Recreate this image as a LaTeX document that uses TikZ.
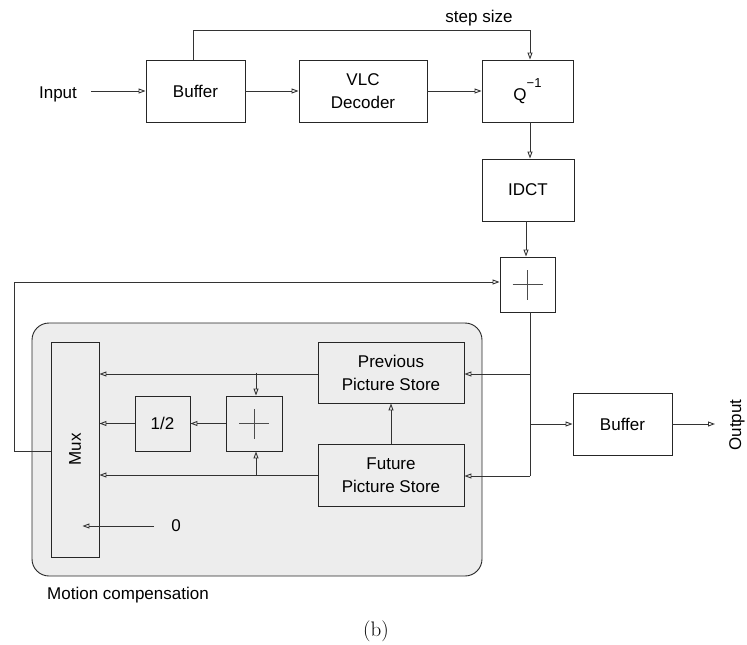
\documentclass[tikz,border=0pt]{standalone}
\usepackage{fontspec}
\setsansfont{Liberation Sans}
\usetikzlibrary{arrows.meta}
\definecolor{mcgray}{HTML}{EDEDED}
\begin{document}
\begin{tikzpicture}[x=1pt,y=-1pt,
  blk/.style={draw=black!85, line width=0.9pt, inner sep=0pt,
    font=\sffamily\fontsize{17}{23}\selectfont, align=center},
  lbl/.style={font=\sffamily\fontsize{17}{20}\selectfont, inner sep=0pt},
  conn/.style={draw=black!80, line width=0.9pt},
  arr/.style={conn, -{Triangle[open, length=7pt, width=5pt]}},
  cross/.style={draw=black!70, line width=0.8pt}]
\useasboundingbox (0,0) rectangle (747,645);

% motion compensation area
\node[draw=black!85, fill=mcgray, rounded corners=17pt, line width=0.9pt,
  minimum width=450pt, minimum height=253pt] (mc) at (257,449.5) {};

% top row
\node[blk, minimum width=99pt, minimum height=62pt] (buf1) at (195.5,91) {Buffer};
\node[blk, minimum width=128pt, minimum height=62pt] (vlc) at (363,91) {VLC\\Decoder};
\node[blk, minimum width=91pt, minimum height=62pt] (q) at (527.5,91)
  {Q\raisebox{13pt}{\fontsize{13}{13}\selectfont −1}};
\node[blk, minimum width=92pt, minimum height=62pt] (idct) at (528,190) {IDCT};
\node[blk, minimum width=55pt, minimum height=55pt] (add) at (527.5,284.5) {};
\node[blk, minimum width=99pt, minimum height=62pt] (buf2) at (622.5,424) {Buffer};

% inside motion compensation
\node[blk, minimum width=48pt, minimum height=215pt] (mux) at (75,449.5) {\rotatebox{90}{Mux}};
\node[blk, minimum width=146pt, minimum height=61pt] (prev) at (391,372.5) {Previous\\Picture Store};
\node[blk, minimum width=146pt, minimum height=62pt] (fut) at (391,475) {Future\\Picture Store};
\node[blk, minimum width=55pt, minimum height=55pt] (half) at (162.5,423.5) {1/2};
\node[blk, minimum width=56pt, minimum height=55pt] (add2) at (254,423.5) {};

% crosses in adders
\draw[cross] ([xshift=-15pt]add.center) -- ([xshift=15pt]add.center);
\draw[cross] ([yshift=-15pt]add.center) -- ([yshift=15pt]add.center);
\draw[cross] ([xshift=-15pt]add2.center) -- ([xshift=15pt]add2.center);
\draw[cross] ([yshift=-15pt]add2.center) -- ([yshift=15pt]add2.center);

% labels
\node[lbl] (input) at (58,94) {Input};
\node[lbl] (ss) at (479,18) {step size};
\node[lbl, rotate=90] (out) at (737,425) {Output};
\node[lbl] (zero) at (176,526) {0};
\node[lbl, anchor=west] (mclbl) at (47,595) {Motion compensation};
\node[inner sep=0pt, font=\rmfamily\fontsize{21}{24}\selectfont] (cap) at (376,631) {(b)};

% coordinates
\coordinate (inA) at (91,91);
\coordinate (j1) at (530,374);
\coordinate (j2) at (530,424);
\coordinate (j3) at (530,476);
\coordinate (outA) at (715,424);
\coordinate (fb) at (14,451);

% top connectors
\draw[arr] (inA) -- (buf1.west);
\draw[arr] (buf1) -- (vlc);
\draw[arr] (vlc) -- (q);
\draw[arr] ([xshift=-2.5pt]buf1.north) -- ++(0,-29) -| ([xshift=2.5pt]q.north);
\draw[arr] ([xshift=2.5pt]q.south) -- ([xshift=2.5pt]q.south |- idct.north);
\draw[arr] ([xshift=-2pt]idct.south) -- ([xshift=-2pt]idct.south |- add.north);

% output distribution
\draw[conn] ([xshift=2.5pt]add.south) -- (j3);
\draw[arr] (j1) -- (j1 -| prev.east);
\draw[arr] (j2) -- (buf2.west);
\draw[arr] (j3) -- (j3 -| fut.east);
\draw[arr] (buf2.east) -- (outA);

% feedback
\draw[arr] (fb -| mux.west) -- (fb) |- ([yshift=2.5pt]add.west);

% motion compensation internals
\draw[arr] ([yshift=-1.5pt]prev.west) -- ([yshift=-1.5pt]prev.west -| mux.east);
\draw[arr] ([xshift=2pt]add2.north |- prev.west) -- ([xshift=2pt]add2.north);
\draw[arr] (add2) -- (half);
\draw[arr] (half) -- (half.west -| mux.east);
\draw[arr] (fut.west) -- (fut.west -| mux.east);
\draw[arr] ([xshift=2pt]add2.south |- fut.west) -- ([xshift=2pt]add2.south);
\draw[arr] (fut.north) -- (prev.south);
\draw[arr] ([xshift=-17pt]zero.west) -- ([xshift=-17pt]zero.west -| mux.east);
\end{tikzpicture}
\end{document}
